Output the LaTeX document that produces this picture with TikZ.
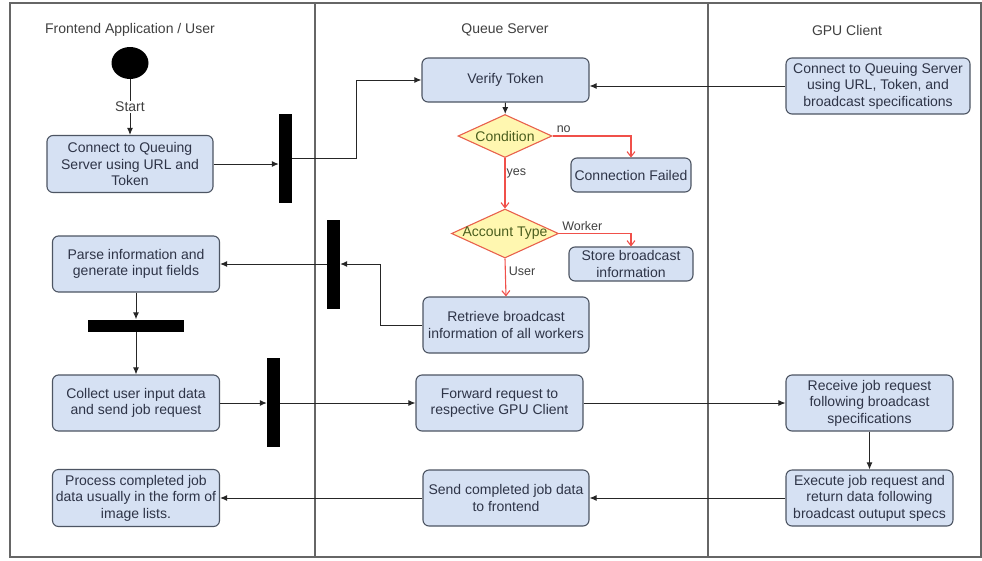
\documentclass[tikz,border=0pt]{standalone}
\usepackage{fontspec}
\setmainfont{Liberation Sans}
\usetikzlibrary{shapes.geometric,arrows.meta}
\definecolor{boxfill}{HTML}{D6E1F3}
\definecolor{boxline}{HTML}{4D5563}
\definecolor{boxtext}{HTML}{2E3447}
\definecolor{diafill}{HTML}{FFF7B0}
\definecolor{dialine}{HTML}{E8604C}
\definecolor{diatext}{HTML}{4B5E1E}
\definecolor{redline}{HTML}{F0504A}
\definecolor{laneline}{HTML}{666666}
\definecolor{headtext}{HTML}{404040}
\begin{document}
\begin{tikzpicture}[x=1pt,y=-1pt,
  font=\fontsize{14}{16.5}\selectfont,
  lane/.style={draw=laneline,line width=1.3pt},
  head/.style={text=headtext,inner sep=0pt},
  act/.style={draw=boxline,fill=boxfill,text=boxtext,rounded corners=6pt,
    line width=1.1pt,minimum width=167pt,minimum height=56pt,align=center,
    inner sep=0pt},
  dia/.style={diamond,draw=dialine,fill=diafill,line width=1.1pt,inner sep=0pt},
  diatxt/.style={text=diatext,inner sep=0pt},
  bar/.style={fill=black,inner sep=0pt},
  arr/.style={draw=black!85,line width=1pt,-{Latex[length=7pt,width=6pt]}},
  rarr/.style={draw=redline,line width=1.1pt,-{Straight Barb[length=5pt,width=8pt]}},
  lbl/.style={text=headtext,inner sep=1pt,font=\fontsize{12.5}{14}\selectfont},
]
\useasboundingbox (0,0) rectangle (982,560);

% swimlanes
\draw[lane] (10,3) rectangle (981,557);
\draw[lane] (315,3) -- (315,557);
\draw[lane] (708,3) -- (708,557);
\node[head] (h1) at (130,30) {Frontend Application / User};
\node[head] (h2) at (505,30) {Queue Server};
\node[head] (h3) at (847,30) {GPU Client};

% frontend lane
\node[ellipse,fill=black,minimum width=37pt,minimum height=32pt,inner sep=0pt] (start) at (130,63) {};
\node[act,minimum width=166pt,minimum height=57pt] (box1) at (130,164) {Connect to Queuing\\Server using URL and\\Token};
\node[act] (parse) at (136,264) {Parse information and\\generate input fields};
\node[act] (collect) at (136,403) {Collect user input data\\and send job request};
\node[act,minimum height=57pt] (process) at (136,498) {Process completed job\\data usually in the form of\\image lists.};
\node[bar,minimum width=13pt,minimum height=89pt] (bar1) at (285.5,158) {};
\node[bar,minimum width=13pt,minimum height=89pt] (bar2) at (333.5,264) {};
\node[bar,minimum width=96pt,minimum height=12pt] (bar3) at (136,325.5) {};
\node[bar,minimum width=13pt,minimum height=89pt] (bar4) at (273.5,402.5) {};

% queue server lane
\node[act,minimum height=44pt] (verify) at (505.5,80) {Verify Token};
\node[dia,minimum width=94pt,minimum height=43pt] (cond) at (505,136) {};
\node[diatxt] (condt) at (cond) {Condition};
\node[act,minimum width=120pt,minimum height=34pt] (fail) at (631,175) {Connection Failed};
\node[dia,minimum width=107pt,minimum height=49pt] (acct) at (505,233.5) {};
\node[diatxt] (acctt) at (acct) {Account Type};
\node[act,minimum width=124pt,minimum height=34pt] (store) at (631,264) {Store broadcast\\information};
\node[act,minimum width=166pt] (retr) at (506,325) {Retrieve broadcast\\information of all workers};
\node[act] (fwd) at (499.5,403) {Forward request to\\respective GPU Client};
\node[act,minimum width=166pt] (send) at (506,498) {Send completed job data\\to frontend};

% gpu client lane
\node[act,minimum width=184pt] (gpu1) at (878,86) {Connect to Queuing Server\\using URL, Token, and\\broadcast specifications};
\node[act] (recv) at (869.5,403) {Receive job request\\following broadcast\\specifications};
\node[act] (exec) at (869.5,498) {Execute job request and\\return data following\\broadcast outuput specs};

% control flow
\draw[arr] (start) -- (box1) node[midway,fill=white,text=headtext,inner sep=1pt] (startl) {Start};
\draw[arr] (box1.east) -- (box1.east -| bar1.west);
\coordinate (j1) at (356,80);
\draw[arr] (bar1.east) -- (bar1.east -| j1) |- (verify.west);
\draw[arr] (gpu1.west) -- (verify.east |- gpu1.west);
\draw[arr] (verify) -- (cond);
\draw[rarr] (cond.east) -| (fail.north);
\node[lbl,anchor=south west] (nol) at ([xshift=3pt,yshift=2pt]cond.east) {no};
\draw[rarr] (cond.south) -- (acct.north) node[lbl,pos=0.3,right] (yesl) {yes};
\draw[rarr] (acct.east) -| (store.north);
\node[lbl,anchor=south west] (workl) at ([xshift=2pt,yshift=2pt]acct.east) {Worker};
\draw[rarr] (acct.south) -- (retr.north) node[lbl,pos=0.33,right,xshift=2pt] (userl) {User};
\coordinate (j2) at (380,264);
\draw[arr] (retr.west) -| (j2) -- (j2 -| bar2.east);
\draw[arr] (bar2.west) -- (bar2.west -| parse.east);
\draw[arr] (parse) -- (bar3);
\draw[arr] (bar3) -- (collect);
\draw[arr] (collect.east) -- (collect.east -| bar4.west);
\draw[arr] (bar4.east |- fwd.west) -- (fwd.west);
\draw[arr] (fwd.east) -- (recv.west);
\draw[arr] (recv) -- (exec);
\draw[arr] (exec.west) -- (exec.west -| send.east);
\draw[arr] (send.west) -- (send.west -| process.east);
\end{tikzpicture}
\end{document}
